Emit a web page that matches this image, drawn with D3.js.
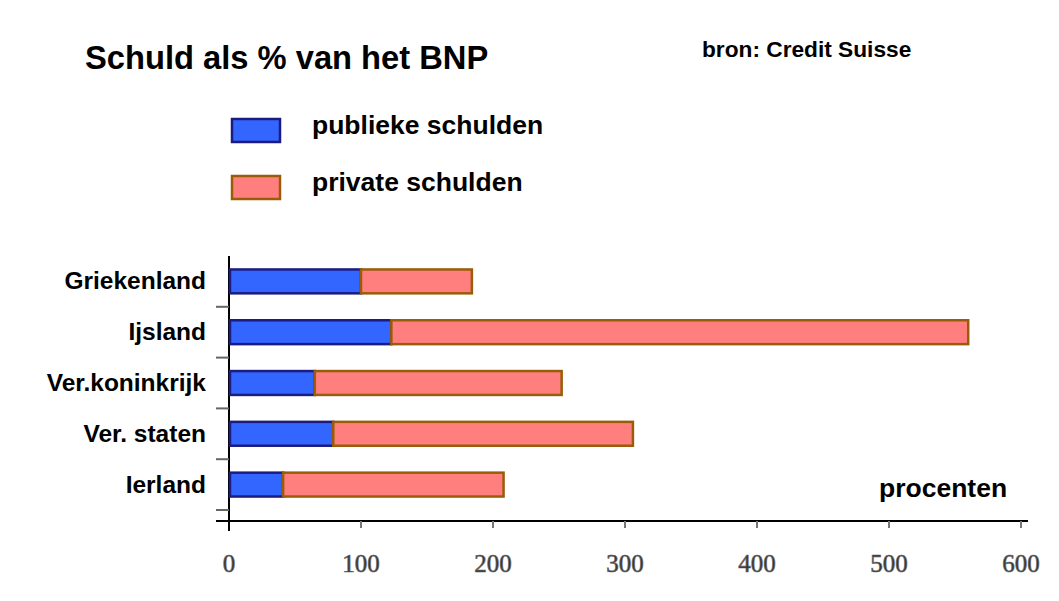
<!DOCTYPE html>
<html>
<head>
<meta charset="utf-8">
<script src="https://cdn.jsdelivr.net/npm/d3@7/dist/d3.min.js"></script>
<style>
  body { margin: 0; background: #fff; }
  text { font-family: "Liberation Sans", Arial, sans-serif; }
</style>
</head>
<body>
<div id="chart"></div>
<script>
// landen en waarden (% van BNP)
const landen = ["Griekenland", "Ijsland", "Ver.koninkrijk", "Ver. staten", "Ierland"];
const publiek = [100, 123, 65, 79, 41];
const prive = [84, 437, 187, 227, 167];
const xTicks = [0, 100, 200, 300, 400, 500, 600];
const reeksen = ["publieke schulden", "private schulden"];

const width = 1059;
const height = 601;

const fills = ["#3366ff", "#ff7f7f"];
const strokes = ["#1c1c80", "#9a5c08"];

const svg = d3
  .select("#chart")
  .append("svg")
  .attr("width", width)
  .attr("height", height);

const x = d3.scaleLinear().domain([0, 600]).range([229, 1021]);

const y = d3
  .scaleBand()
  .domain(landen)
  .range([256, 510])
  .paddingInner(0.53)
  .paddingOuter(0.265);

const data = landen.map((land, i) => ({
  land,
  publiek: publiek[i],
  prive: prive[i],
}));

// titel en bron
svg
  .append("text")
  .attr("x", 85)
  .attr("y", 69)
  .style("font-size", "32.7px")
  .style("font-weight", "bold")
  .text("Schuld als % van het BNP");

svg
  .append("text")
  .attr("x", 702)
  .attr("y", 57)
  .style("font-size", "22.7px")
  .style("font-weight", "bold")
  .text("bron: Credit Suisse");

// legenda
const legend = svg
  .selectAll(".legend")
  .data(reeksen)
  .enter()
  .append("g")
  .attr("class", "legend")
  .attr("transform", (d, i) => `translate(0,${i * 57})`);

legend
  .append("rect")
  .attr("x", 232)
  .attr("y", 119)
  .attr("width", 48)
  .attr("height", 23)
  .attr("fill", (d, i) => fills[i])
  .attr("stroke", (d, i) => strokes[i])
  .attr("stroke-width", 2.5);

legend
  .append("text")
  .attr("x", 312)
  .attr("y", 134)
  .style("font-size", "26.5px")
  .style("font-weight", "bold")
  .text((d) => d);

// as y
svg
  .append("line")
  .attr("x1", 229)
  .attr("x2", 229)
  .attr("y1", 256)
  .attr("y2", 531)
  .attr("stroke", "#000")
  .attr("stroke-width", 2);

const grenzen = landen.map(
  (d) => y(d) + y.bandwidth() + (y.step() * y.paddingInner()) / 2
);
svg
  .selectAll(".ytick")
  .data(grenzen)
  .enter()
  .append("line")
  .attr("class", "ytick")
  .attr("x1", 216)
  .attr("x2", 229)
  .attr("y1", (d) => d)
  .attr("y2", (d) => d)
  .attr("stroke", "#666")
  .attr("stroke-width", 2);

svg
  .selectAll(".land")
  .data(landen)
  .enter()
  .append("text")
  .attr("class", "land")
  .attr("x", 206)
  .attr("y", (d) => y(d) + y.bandwidth() / 2 + 8)
  .attr("text-anchor", "end")
  .style("font-size", "24.5px")
  .style("font-weight", "bold")
  .text((d) => d);

// as x
svg
  .append("line")
  .attr("x1", 216)
  .attr("x2", 1028)
  .attr("y1", 521)
  .attr("y2", 521)
  .attr("stroke", "#000")
  .attr("stroke-width", 2);

svg
  .selectAll(".xtick")
  .data(xTicks.slice(1))
  .enter()
  .append("line")
  .attr("class", "xtick")
  .attr("x1", (d) => x(d))
  .attr("x2", (d) => x(d))
  .attr("y1", 521)
  .attr("y2", 528)
  .attr("stroke", "#777")
  .attr("stroke-width", 2);

svg
  .selectAll(".xlabel")
  .data(xTicks)
  .enter()
  .append("text")
  .attr("class", "xlabel")
  .attr("x", (d) => x(d))
  .attr("y", 572)
  .attr("text-anchor", "middle")
  .style("font-family", "'Liberation Serif', 'Times New Roman', serif")
  .style("font-size", "25px")
  .attr("fill", "#333")
  .attr("stroke", "#666")
  .attr("stroke-width", 0.7)
  .text((d) => d);

svg
  .append("text")
  .attr("x", 879)
  .attr("y", 497)
  .style("font-size", "26.5px")
  .style("font-weight", "bold")
  .text("procenten");

// balken: publiek
svg
  .selectAll(".publiek")
  .data(data)
  .enter()
  .append("rect")
  .attr("class", "publiek")
  .attr("x", x(0) + 1)
  .attr("y", (d) => y(d.land))
  .attr("width", (d) => x(d.publiek) - x(0) - 1)
  .attr("height", y.bandwidth())
  .attr("fill", fills[0])
  .attr("stroke", strokes[0])
  .attr("stroke-width", 2.5);

// balken: privé
svg
  .selectAll(".prive")
  .data(data)
  .enter()
  .append("rect")
  .attr("class", "prive")
  .attr("x", (d) => x(d.publiek))
  .attr("y", (d) => y(d.land))
  .attr("width", (d) => x(d.publiek + d.prive) - x(d.publiek))
  .attr("height", y.bandwidth())
  .attr("fill", fills[1])
  .attr("stroke", strokes[1])
  .attr("stroke-width", 2.5);
</script>
</body>
</html>
